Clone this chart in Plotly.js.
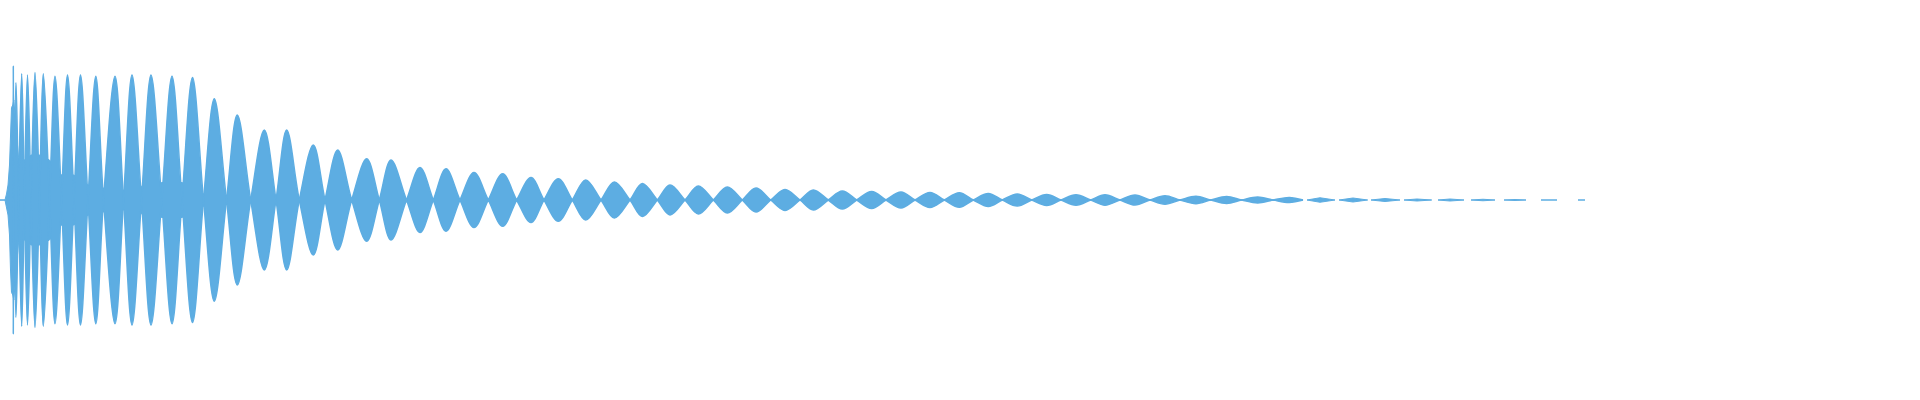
<!DOCTYPE html>
<html>
<head>
<meta charset="utf-8">
<script src="https://cdn.plot.ly/plotly-3.0.1.min.js"></script>
<style>html,body{margin:0;padding:0;background:#fff;}#chart{width:1920px;height:400px;}</style>
</head>
<body>
<div id="chart"></div>
<script>
// Time (s) and amplitude of the signal's beat lobes
const lobeStart = [0.0128,0.0138,0.0185,0.0243,0.0310,0.0395,0.0495,0.0615,0.0740,0.0880,0.1035,0.1235,0.1415,0.1617,0.1820,0.2035,0.2265,0.2507,0.2760,0.2993,0.3250,0.3517,0.3793,0.4065,0.4333,0.4600,0.4883,0.5167,0.5440,0.5723,0.6010,0.6300,0.6573,0.6850,0.7133,0.7423,0.7707,0.8000,0.8283,0.8567,0.8860,0.9150,0.9443,0.9733,1.0023,1.0317,1.0610,1.0907,1.1200,1.1500,1.1800,1.2107,1.2417,1.2733,1.3070,1.3390,1.3710,1.4040,1.4380,1.4710,1.5040,1.5410,1.5780];
const lobePeak  = [0.0133,0.0160,0.0217,0.0275,0.0350,0.0433,0.0550,0.0675,0.0805,0.0958,0.1150,0.1320,0.1510,0.1720,0.1925,0.2143,0.2373,0.2643,0.2867,0.3133,0.3377,0.3667,0.3910,0.4200,0.4460,0.4740,0.5027,0.5310,0.5583,0.5857,0.6143,0.6423,0.6700,0.6983,0.7273,0.7560,0.7850,0.8133,0.8423,0.8717,0.9010,0.9300,0.9593,0.9883,1.0173,1.0467,1.0760,1.1050,1.1350,1.1650,1.1960,1.2267,1.2577,1.2893,1.3200,1.3530,1.3850,1.4170,1.4500,1.4830,1.5150,1.5490,1.5810];
const lobeEnd   = [0.0138,0.0185,0.0243,0.0310,0.0395,0.0495,0.0615,0.0740,0.0880,0.1035,0.1235,0.1415,0.1617,0.1820,0.2035,0.2265,0.2507,0.2760,0.2993,0.3250,0.3517,0.3793,0.4065,0.4333,0.4600,0.4883,0.5167,0.5440,0.5723,0.6010,0.6300,0.6573,0.6850,0.7133,0.7423,0.7707,0.8000,0.8283,0.8567,0.8860,0.9150,0.9443,0.9733,1.0023,1.0317,1.0610,1.0907,1.1200,1.1500,1.1800,1.2107,1.2417,1.2733,1.3030,1.3350,1.3677,1.4000,1.4317,1.4640,1.4950,1.5260,1.5570,1.5850];
const lobeAmp   = [1.07,0.94,1.01,1.00,1.02,1.01,0.99,1.00,1.00,0.99,0.99,1.00,1.00,0.99,0.98,0.81,0.68,0.56,0.56,0.44,0.40,0.33,0.32,0.26,0.25,0.22,0.21,0.18,0.17,0.16,0.144,0.132,0.12,0.112,0.104,0.096,0.084,0.08,0.072,0.068,0.064,0.06,0.058,0.052,0.048,0.044,0.042,0.042,0.04,0.034,0.03,0.028,0.024,0.02,0.018,0.016,0.012,0.008,0.008,0.006,0.004,0.003,0.002];

// Residual amplitude between lobes (the band the signal never leaves)
const coreT   = [0,0.005,0.0065,0.008,0.0095,0.0105,0.0115,0.0128,0.0138,0.0185,0.0243,0.0310,0.0395,0.0495,0.0615,0.0740,0.0880,0.1035,0.1235,0.1415,0.1617,0.1820,0.2035,0.2265,0.2507,0.3250,0.4065,0.6300,1.0023,1.3030];
const coreAmp = [0.001,0.001,0.048,0.12,0.28,0.56,0.74,0.76,0.80,0.34,0.32,0.36,0.36,0.32,0.20,0.20,0.12,0.096,0.08,0.11,0.14,0.14,0.05,0.04,0.024,0.02,0.012,0.004,0.002,0.001];

const COLOR = '#5DADE2';

// contiguous run of lobes (shared nodes) -> beat envelope drawn as a wave
let run = 0;
while (run + 1 < lobeStart.length && lobeStart[run + 1] === lobeEnd[run]) run++;
const wx = [lobeStart[0]], wy = [0];
for (let i = 0; i <= run; i++){
  const s = (i % 2 === 0) ? 1 : -1;
  wx.push(lobePeak[i], lobeEnd[i]);
  wy.push(s * lobeAmp[i], 0);
}
const waveA = {
  type: 'scatter', mode: 'lines', x: wx, y: wy,
  line: {color: COLOR, width: 1.5, shape: 'spline', smoothing: 1, simplify: false},
  hoverinfo: 'skip', showlegend: false
};
const waveB = {
  type: 'scatter', mode: 'lines', x: wx, y: wy.map(v => -v),
  line: {color: COLOR, width: 1.5, shape: 'spline', smoothing: 1, simplify: false},
  fill: 'tonexty', fillcolor: COLOR,
  hoverinfo: 'skip', showlegend: false
};

// separate small lobes of the tail (gaps between them)
const tx = [], ty = [];
for (let i = run + 1; i < lobeStart.length; i++){
  const a = lobeStart[i], p = lobePeak[i], b = lobeEnd[i], h = lobeAmp[i];
  tx.push(a, p, b, p, a, null);
  ty.push(0, h, 0, -h, 0, null);
}
const tail = {
  type: 'scatter', mode: 'lines', x: tx, y: ty,
  line: {color: COLOR, width: 1},
  fill: 'toself', fillcolor: COLOR, connectgaps: false,
  hoverinfo: 'skip', showlegend: false
};

const core = {
  type: 'scatter', mode: 'lines',
  x: coreT.concat(coreT.slice().reverse()),
  y: coreAmp.concat(coreAmp.slice().reverse().map(v => -v)),
  line: {color: COLOR, width: 1},
  fill: 'toself', fillcolor: COLOR,
  hoverinfo: 'skip', showlegend: false
};

const layout = {
  width: 1920, height: 400,
  margin: {l: 0, r: 0, t: 0, b: 0},
  paper_bgcolor: '#ffffff', plot_bgcolor: '#ffffff',
  showlegend: false,
  xaxis: {visible: false, range: [0, 1.92], fixedrange: true},
  yaxis: {visible: false, range: [-1.6, 1.6], fixedrange: true}
};

Plotly.newPlot('chart', [core, tail, waveA, waveB], layout, {displayModeBar: false, staticPlot: true});
</script>
</body>
</html>
